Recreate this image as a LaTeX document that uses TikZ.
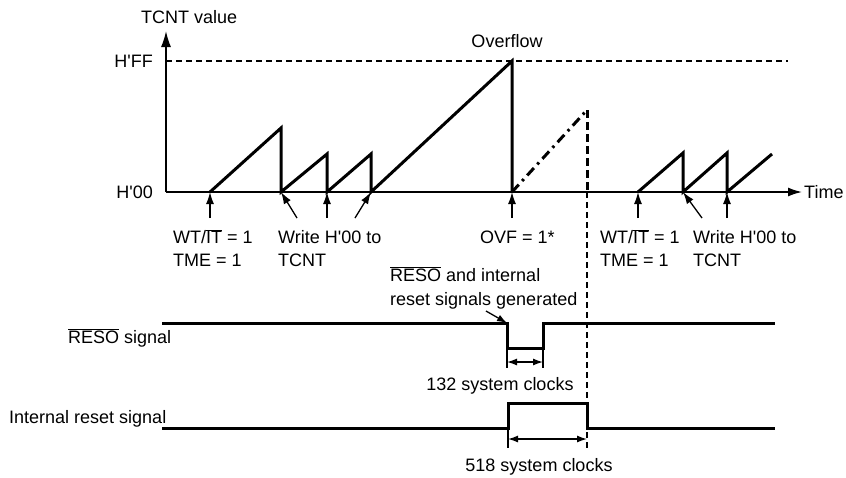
\documentclass[tikz,border=0pt]{standalone}
\usepackage{fontspec}
\setmainfont{Liberation Sans}[Ligatures=TeXOff]
\usetikzlibrary{arrows.meta}
\newcommand{\myovl}[1]{$\overline{\hbox{#1}}$}
\begin{document}
\begin{tikzpicture}[x=1pt,y=-1pt,
  txt/.style={font=\fontsize{18}{22}\selectfont, inner sep=0pt, anchor=base west},
  axisline/.style={line width=1.5pt},
  wave/.style={line width=3pt, line join=miter},
  pointer/.style={line width=1.3pt, -{Latex[length=12pt,width=8pt]}},
  dimarrow/.style={line width=1.3pt, {Latex[length=10pt,width=7pt]}-{Latex[length=10pt,width=7pt]}},
  thindash/.style={line width=1.1pt, dash pattern=on 6pt off 4pt},
  thickdash/.style={line width=3pt, dash pattern=on 8pt off 4pt},
  dashdot/.style={line width=3pt, dash pattern=on 10pt off 5pt on 2.5pt off 5pt},
  tick/.style={line width=1.1pt},
]
\useasboundingbox (0,0) rectangle (846,477);

% ---------- axes ----------
\coordinate (O) at (166,192);
\coordinate (Ytop) at (166,31);
\coordinate (Tend) at (802,192);
\coordinate (FFl) at (166,61);
\coordinate (FFr) at (788,61);
\draw[axisline, -{Latex[length=16pt,width=10pt]}] (O) -- (Ytop);
\draw[axisline, -{Latex[length=14pt,width=9pt]}] (O) -- (Tend);
\draw[thindash] (FFl) -- (FFr);

\node[txt] (tcnt) at (141,23.5) {TCNT value};
\node[txt, anchor=base east] (hff) at (153,67.5) {H'FF};
\node[txt, anchor=base east] (h00) at (153,198.5) {H'00};
\node[txt, anchor=base] (ovfl) at (507,47.5) {Overflow};
\node[txt] (time) at (804,198.5) {Time};

% ---------- sawtooth ----------
\coordinate (s1) at (210,192);
\coordinate (p1) at (281,128);
\coordinate (b1) at (281,192);
\coordinate (p2) at (327,154);
\coordinate (b2) at (327,192);
\coordinate (p3) at (371,154);
\coordinate (b3) at (371,192);
\coordinate (p4) at (512,61);
\coordinate (b4) at (512,192);
\coordinate (p5) at (587,110);
\coordinate (v5) at (587,192);
\coordinate (vend) at (587,448);
\draw[wave] (s1) -- (p1) -- (b1) -- (p2) -- (b2) -- (p3) -- (b3) -- (p4) -- (b4);
\draw[dashdot] (b4) -- (p5);
\draw[thickdash] (p5) -- (v5);
\draw[thindash] (v5) -- (vend);

\coordinate (r1) at (638,192);
\coordinate (q1) at (683,153);
\coordinate (rb1) at (683,192);
\coordinate (q2) at (727,153);
\coordinate (rb2) at (727,192);
\coordinate (q3) at (772,154);
\draw[wave] (r1) -- (q1) -- (rb1) -- (q2) -- (rb2) -- (q3);

% ---------- pointers ----------
\coordinate (a1) at (210,218);
\coordinate (a2) at (297,218);
\coordinate (a3) at (327,218);
\coordinate (a4) at (355,218);
\coordinate (a5) at (512,218);
\coordinate (a6) at (638,218);
\coordinate (a7) at (702,218);
\coordinate (a8) at (727,218);
\draw[pointer] (a1) -- (s1);
\draw[pointer] (a2) -- (b1);
\draw[pointer] (a3) -- (b2);
\draw[pointer] (a4) -- (b3);
\draw[pointer] (a5) -- (b4);
\draw[pointer] (a6) -- (r1);
\draw[pointer] (a7) -- (rb1);
\draw[pointer] (a8) -- (rb2);

\node[txt] (wt1) at (173,243.5) {WT/\myovl{IT} = 1};
\node[txt] (tme1) at (173,266.5) {TME = 1};
\node[txt] (wr1) at (278,243.5) {Write H'00 to};
\node[txt] (tc1) at (278,266.5) {TCNT};
\node[txt] (ovf) at (480,243.5) {OVF = 1*};
\node[txt] (wt2) at (600,243.5) {WT/\myovl{IT} = 1};
\node[txt] (tme2) at (600,266.5) {TME = 1};
\node[txt] (wr2) at (693,243.5) {Write H'00 to};
\node[txt] (tc2) at (693,266.5) {TCNT};

% ---------- reset signals ----------
\node[txt] (gen1) at (390,281.5) {\myovl{RESO} and internal};
\node[txt] (gen2) at (390,305.5) {reset signals generated};
\node[txt] (resolbl) at (68,343.5) {\myovl{RESO} signal};
\node[txt] (intlbl) at (9,423.5) {Internal reset signal};

\coordinate (ra) at (162,323);
\coordinate (rb) at (507,323);
\coordinate (rc) at (507,348);
\coordinate (rd) at (543,348);
\coordinate (re) at (543,323);
\coordinate (rf) at (775,323);
\draw[wave] (ra) -- (rb) -- (rc) -- (rd) -- (re) -- (rf);

\coordinate (ia) at (162,428);
\coordinate (ib) at (508,428);
\coordinate (ic) at (508,403);
\coordinate (id) at (587,403);
\coordinate (ie) at (587,428);
\coordinate (iff) at (775,428);
\draw[wave] (ia) -- (ib) -- (ic) -- (id) -- (ie) -- (iff);

\coordinate (gp) at (486,311);
\draw[line width=1.3pt, -{Latex[length=10pt,width=7pt]}] (gp) -- (rb);

% 132 dimension
\coordinate (t1b) at (507,368);
\coordinate (t2b) at (543,368);
\coordinate (d1l) at (507,362);
\coordinate (d1r) at (543,362);
\draw[tick] (rc) -- (t1b);
\draw[tick] (rd) -- (t2b);
\draw[dimarrow] (d1l) -- (d1r);
\node[txt, anchor=base] (c132) at (500,390.5) {132 system clocks};

% 518 dimension
\coordinate (t3b) at (508,448);
\coordinate (d2l) at (508,439);
\coordinate (d2r) at (587,439);
\draw[tick] (ib) -- (t3b);
\draw[dimarrow] (d2l) -- (d2r);
\node[txt, anchor=base] (c518) at (539,471.5) {518 system clocks};
\end{tikzpicture}
\end{document}
